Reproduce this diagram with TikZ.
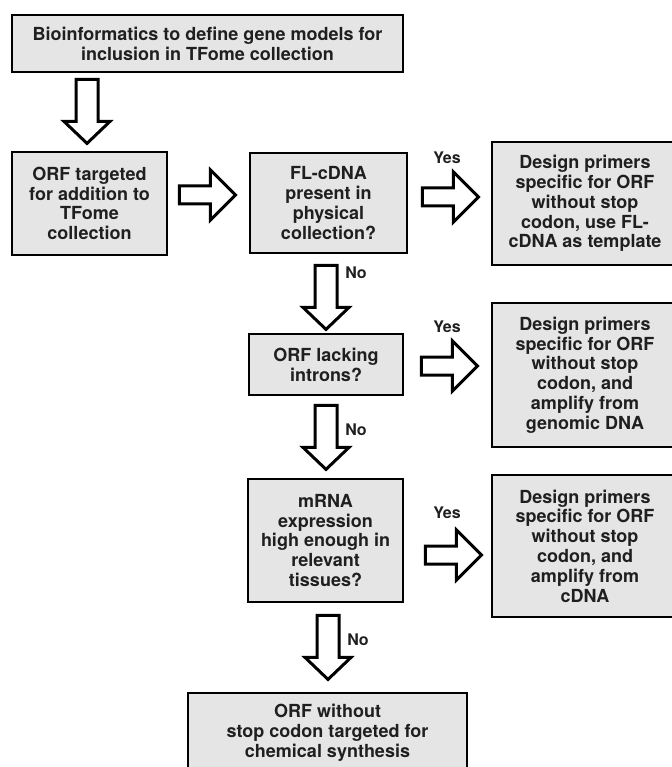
\documentclass[tikz,border=0pt]{standalone}
\usepackage{fontspec}
\setmainfont{TeX Gyre Heros}
\usetikzlibrary{calc}
\definecolor{boxgray}{RGB}{229,229,229}
\begin{document}
\begin{tikzpicture}[x=1pt,y=-1pt,
    box/.style={draw=black,line width=1.8pt,fill=boxgray,align=center,inner sep=0pt,
      font=\fontsize{18}{19.8}\selectfont\bfseries,text=black!88},
    answer/.style={font=\fontsize{16}{18}\selectfont\bfseries,text=black!88},
    hollow/.style={draw=black,line width=3pt,fill=white},
    downarrow/.pic={\draw[hollow] (-11,0) -- (-11,42) -- (-23,42) -- (0,64) -- (23,42) -- (11,42) -- (11,0) -- cycle;},
    rightarrow/.pic={\draw[hollow] (0,-9) -- (31,-9) -- (31,-25) -- (56,0) -- (31,25) -- (31,9) -- (0,9) -- cycle;}]
  \useasboundingbox (0,0) rectangle (671,767);
  % boxes
  \node[box,minimum width=391pt,minimum height=57pt] (bio) at (207.5,43.5) {Bioinformatics to define gene models for\\inclusion in TFome collection};
  \node[box,minimum width=155pt,minimum height=103pt] (orf) at (89.5,203.5) {ORF targeted\\for addition to\\TFome\\collection};
  \node[box,minimum width=157pt,minimum height=100pt] (fl) at (328.5,203) {FL-cDNA\\present in\\physical\\collection?};
  \node[box,minimum width=186pt,minimum height=123pt] (des1) at (585,203.5) {Design primers\\specific for ORF\\without stop\\codon, use FL-\\cDNA as template};
  \node[box,minimum width=154pt,minimum height=61pt] (lack) at (326,364.5) {ORF lacking\\introns?};
  \node[box,minimum width=186pt,minimum height=144pt] (des2) at (585,375) {Design primers\\specific for ORF\\without stop\\codon, and\\amplify from\\genomic DNA};
  \node[box,minimum width=155pt,minimum height=123pt] (mrna) at (325.5,540.5) {mRNA\\expression\\high enough in\\relevant\\tissues?};
  \node[box,minimum width=186pt,minimum height=142pt] (des3) at (585,546) {Design primers\\specific for ORF\\without stop\\codon, and\\amplify from\\cDNA};
  \node[box,minimum width=279pt,minimum height=80pt] (chem) at (327.5,733) {ORF without\\stop codon targeted for\\chemical synthesis};
  % block arrows
  \pic at ($(orf.north |- bio.south)+(-2.5,6.5)$) {downarrow};
  \pic at ($(orf.east)+(11.5,-8.5)$) {rightarrow};
  \pic at ($(fl.east)+(14.5,-6)$) {rightarrow};
  \pic at ($(fl.south)+(-2.5,11.5)$) {downarrow};
  \pic at ($(lack.east)+(17.5,1.5)$) {rightarrow};
  \pic at ($(lack.south)+(0,9.5)$) {downarrow};
  \pic at ($(mrna.east)+(21.5,14.5)$) {rightarrow};
  \pic at ($(mrna.south)+(2.5,12.5)$) {downarrow};
  % answers
  \node[answer] (yes1) at (447,158) {Yes};
  \node[answer] (yes2) at (447,327) {Yes};
  \node[answer] (yes3) at (447,513) {Yes};
  \node[answer] (no1) at (356,273) {No};
  \node[answer] (no2) at (356,430) {No};
  \node[answer] (no3) at (358,640) {No};
\end{tikzpicture}
\end{document}
